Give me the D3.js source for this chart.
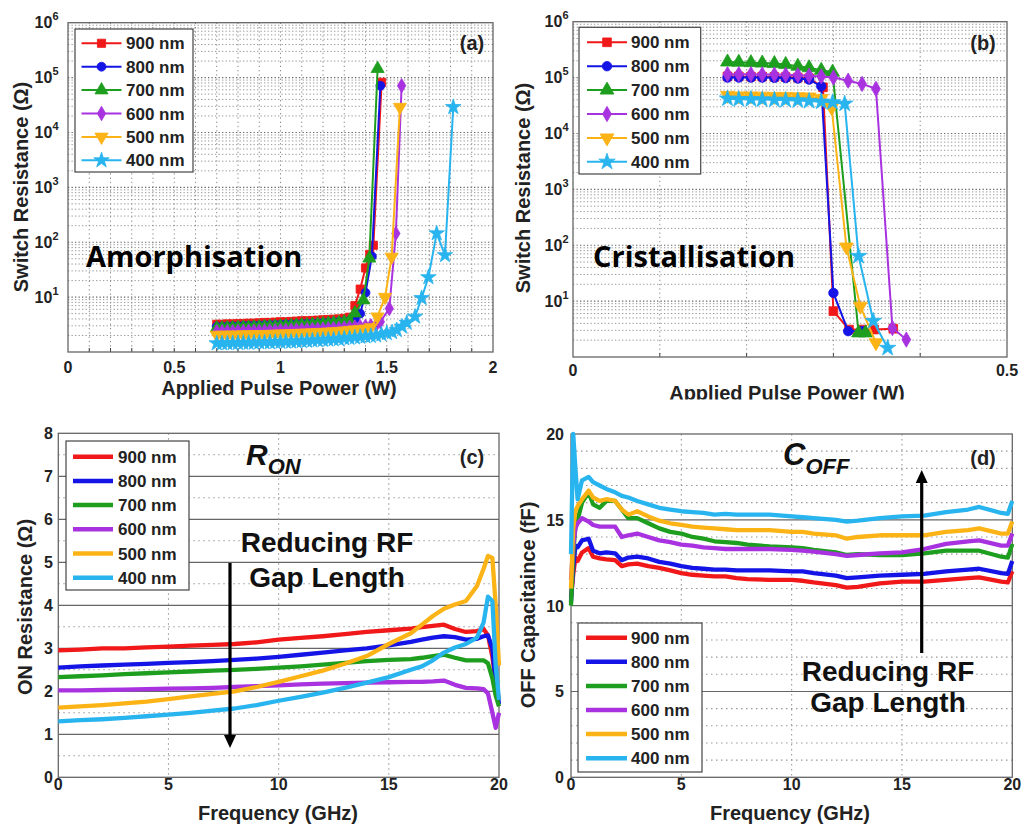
<!DOCTYPE html>
<html><head><meta charset="utf-8">
<script src="https://cdn.jsdelivr.net/npm/d3@7"></script>
<style>body{margin:0;background:#fff}svg{display:block}</style>
</head><body><script>
// ---------------- DATA ----------------
const seriesNames = ["900 nm", "800 nm", "700 nm", "600 nm", "500 nm", "400 nm"];
const seriesColors = ["#f01818", "#1414e6", "#1e9e1e", "#a832e0", "#fcb316", "#28b4ee"];
const markerTypes = ["square", "circle", "triangle", "diamond", "triangleDown", "star"];

// Panel (a) Amorphisation: applied pulse power (W) vs switch resistance (Ohm)
const powerA900 = [0.70,0.725,0.75,0.775,0.80,0.825,0.85,0.875,0.90,0.925,0.95,0.975,1.00,1.025,1.05,1.075,1.10,1.125,1.15,1.175,1.20,1.225,1.25,1.275,1.30,1.325,1.35,1.375,1.40,1.42,1.437,1.476];
const resA900 = [3.2,3.2,3.25,3.25,3.3,3.3,3.35,3.35,3.4,3.45,3.45,3.5,3.55,3.55,3.6,3.65,3.7,3.7,3.75,3.8,3.85,3.9,3.95,4.0,4.1,4.3,7.0,14,34,60,88,82000];
const powerA800 = [0.70,0.725,0.75,0.775,0.80,0.825,0.85,0.875,0.90,0.925,0.95,0.975,1.00,1.025,1.05,1.075,1.10,1.125,1.15,1.175,1.20,1.225,1.25,1.275,1.30,1.325,1.35,1.375,1.40,1.43,1.47];
const resA800 = [2.9,2.9,2.92,2.95,2.95,3.0,3.0,3.02,3.05,3.08,3.1,3.12,3.15,3.18,3.2,3.22,3.25,3.3,3.32,3.35,3.4,3.45,3.5,3.55,3.6,3.7,4.0,5.0,12,55,71000];
const powerA700 = [0.70,0.725,0.75,0.775,0.80,0.825,0.85,0.875,0.90,0.925,0.95,0.975,1.00,1.025,1.05,1.075,1.10,1.125,1.15,1.175,1.20,1.225,1.25,1.275,1.30,1.325,1.35,1.39,1.418,1.457];
const resA700 = [2.72,2.72,2.75,2.75,2.78,2.8,2.8,2.82,2.85,2.88,2.9,2.92,2.95,2.98,3.0,3.05,3.08,3.1,3.15,3.2,3.25,3.3,3.35,3.4,3.5,3.65,5.1,8.8,51,145000];
const powerA600 = [0.70,0.725,0.75,0.775,0.80,0.825,0.85,0.875,0.90,0.925,0.95,0.975,1.00,1.025,1.05,1.075,1.10,1.125,1.15,1.175,1.20,1.225,1.25,1.275,1.30,1.325,1.35,1.375,1.40,1.425,1.45,1.47,1.512,1.543,1.57];
const resA600 = [2.34,2.34,2.35,2.35,2.37,2.38,2.38,2.4,2.4,2.42,2.43,2.45,2.46,2.48,2.5,2.52,2.54,2.56,2.58,2.6,2.62,2.65,2.68,2.7,2.75,2.8,2.85,2.9,2.95,3.0,3.1,3.55,6.2,145,71000];
const powerA500 = [0.70,0.725,0.75,0.775,0.80,0.825,0.85,0.875,0.90,0.925,0.95,0.975,1.00,1.025,1.05,1.075,1.10,1.125,1.15,1.175,1.20,1.225,1.25,1.275,1.30,1.325,1.35,1.375,1.40,1.425,1.456,1.492,1.523,1.562];
const resA500 = [2.04,2.04,2.05,2.05,2.06,2.07,2.08,2.08,2.1,2.1,2.12,2.13,2.15,2.16,2.18,2.2,2.22,2.24,2.26,2.28,2.3,2.33,2.36,2.4,2.44,2.5,2.55,2.6,2.65,2.8,4.4,10,54,29000];
const powerA400 = [0.70,0.725,0.75,0.775,0.80,0.825,0.85,0.875,0.90,0.925,0.95,0.975,1.00,1.025,1.05,1.075,1.10,1.125,1.15,1.175,1.20,1.225,1.25,1.275,1.30,1.325,1.35,1.375,1.40,1.425,1.45,1.475,1.50,1.525,1.547,1.572,1.594,1.633,1.664,1.696,1.735,1.774,1.813];
const resA400 = [1.44,1.44,1.45,1.45,1.46,1.47,1.47,1.48,1.49,1.5,1.5,1.52,1.53,1.54,1.55,1.56,1.58,1.6,1.62,1.64,1.66,1.68,1.7,1.72,1.77,1.8,1.84,1.88,1.92,1.96,2.0,2.1,2.2,2.3,2.5,2.9,3.4,4.4,9.6,23,145,58,29000];

// Panel (b) Cristallisation
const powerB900 = [0.178,0.191,0.205,0.218,0.232,0.245,0.259,0.272,0.288,0.300,0.318,0.333,0.347,0.369];
const resB900 = [105000,105000,104000,104000,103000,102000,100000,97000,67000,6.6,3.1,3.1,3.1,3.2];
const powerB800 = [0.178,0.191,0.205,0.218,0.232,0.245,0.259,0.272,0.286,0.300,0.317,0.333];
const resB800 = [100000,100000,100000,100000,99000,98000,96000,92000,70000,14,2.9,2.9];
const powerB700 = [0.178,0.191,0.205,0.218,0.232,0.245,0.259,0.272,0.286,0.299,0.329,0.337];
const resB700 = [190000,188000,185000,182000,178000,172000,160000,150000,135000,125000,2.7,2.7];
const powerB600 = [0.178,0.191,0.205,0.218,0.232,0.245,0.259,0.272,0.286,0.300,0.317,0.333,0.349,0.368,0.384];
const resB600 = [115000,115000,115000,114000,113000,112000,110000,108000,105000,100000,88000,77000,63000,3.3,2.05];
const powerB500 = [0.178,0.191,0.205,0.218,0.232,0.245,0.259,0.272,0.286,0.298,0.315,0.331,0.349];
const resB500 = [48000,47000,47000,46500,46000,46000,45500,45000,42000,29000,93,8.1,1.8];
const powerB400 = [0.178,0.191,0.205,0.218,0.232,0.245,0.259,0.272,0.286,0.299,0.313,0.329,0.346,0.3625];
const resB400 = [42000,41000,41000,40500,40000,39500,39000,38000,37000,36000,34000,64,4.4,1.45];

// Panel (c) ON resistance vs frequency
const freqC = [0,1,2,3,4,5,6,7,8,9,10,11,12,13,14,15,16,16.5,17,17.5,18,18.5,19,19.3,19.5,19.7,19.85,20];
const ronC900 = [2.95,2.97,3.0,3.0,3.02,3.04,3.06,3.08,3.1,3.14,3.2,3.24,3.28,3.33,3.38,3.42,3.46,3.49,3.52,3.55,3.45,3.38,3.4,3.45,3.3,2.8,2.2,1.8];
const ronC800 = [2.55,2.58,2.6,2.62,2.64,2.66,2.68,2.7,2.73,2.76,2.8,2.85,2.9,2.95,3.0,3.07,3.15,3.2,3.25,3.28,3.26,3.2,3.22,3.28,3.3,3.0,2.2,1.7];
const ronC700 = [2.33,2.35,2.37,2.4,2.42,2.44,2.46,2.48,2.5,2.52,2.55,2.58,2.62,2.66,2.7,2.73,2.75,2.78,2.82,2.85,2.78,2.72,2.72,2.72,2.65,2.3,1.9,1.65];
const ronC600 = [2.02,2.02,2.03,2.04,2.05,2.06,2.07,2.08,2.1,2.12,2.14,2.16,2.18,2.19,2.2,2.21,2.22,2.22,2.23,2.25,2.15,2.08,2.07,2.05,1.95,1.5,1.15,1.5];
const ronC500 = [1.62,1.65,1.68,1.72,1.76,1.82,1.88,1.94,2.0,2.1,2.22,2.35,2.48,2.64,2.82,3.1,3.35,3.55,3.75,3.92,4.02,4.1,4.45,4.85,5.15,5.1,4.0,2.6];
const ronC400 = [1.3,1.33,1.35,1.38,1.42,1.46,1.5,1.55,1.6,1.68,1.78,1.87,1.97,2.08,2.2,2.33,2.5,2.58,2.72,2.9,3.02,3.1,3.25,3.6,4.2,4.1,2.6,1.8];

// Panel (d) OFF capacitance vs frequency
const freqD = [0,0.1,0.2,0.3,0.5,0.8,1,1.3,1.6,2,2.3,2.6,3,3.5,4,4.5,5,5.5,6,6.5,7,7.5,8,9,10,10.5,11,12,12.5,13,14,15,16,17,18,18.5,19.5,19.8,20];
const coffD900 = [10.5,11.8,12.8,12.6,13.1,13.35,12.85,12.75,12.7,12.65,12.3,12.4,12.45,12.3,12.2,12.05,11.9,11.8,11.75,11.7,11.7,11.6,11.55,11.5,11.5,11.45,11.35,11.2,11.05,11.1,11.3,11.4,11.4,11.5,11.6,11.65,11.4,11.35,12.0];
const coffD800 = [10.2,12.2,13.5,13.4,13.8,13.9,13.2,13.05,13.1,13.05,12.65,12.8,12.85,12.75,12.55,12.45,12.3,12.2,12.15,12.1,12.1,12.05,12.05,12.05,12.0,12.0,11.9,11.75,11.6,11.65,11.75,11.8,11.85,12.0,12.1,12.15,11.9,11.85,12.6];
const coffD700 = [10,13,14.6,15.0,16.0,16.6,15.9,15.7,16.1,16.1,15.6,15.1,15.1,14.8,14.5,14.3,14.2,14.0,13.9,13.75,13.7,13.65,13.55,13.45,13.4,13.35,13.25,13.1,12.95,13.0,12.95,12.95,13.05,13.2,13.2,13.2,12.85,12.8,13.6];
const coffD600 = [11.5,13.5,14.5,14.8,15.1,14.9,14.7,14.6,14.6,14.6,14.0,14.1,14.2,14.0,13.8,13.7,13.55,13.5,13.4,13.35,13.3,13.3,13.3,13.3,13.25,13.2,13.15,13.0,12.9,12.95,13.05,13.1,13.3,13.6,13.75,13.8,13.5,13.5,14.2];
const coffD500 = [11,14.5,15.5,15.8,16.2,16.7,16.3,16.1,16.2,16.1,15.6,15.3,15.5,15.2,14.95,14.8,14.7,14.6,14.55,14.5,14.45,14.4,14.4,14.4,14.3,14.3,14.2,14.1,13.9,14.0,14.1,14.1,14.1,14.3,14.4,14.5,14.2,14.2,14.9];
const coffD400 = [13,20,18,16.2,17.3,17.5,17.2,17.0,16.8,16.6,16.4,16.3,16.1,15.9,15.7,15.6,15.5,15.45,15.4,15.3,15.35,15.3,15.3,15.3,15.2,15.15,15.1,15.0,14.9,14.95,15.1,15.2,15.25,15.45,15.6,15.75,15.4,15.35,16.1];

const xTicksA = [0, 0.5, 1, 1.5, 2];
const xTicksB = [0, 0.5];
const yExpTicks = [1, 2, 3, 4, 5, 6];
const xTicksCD = [0, 5, 10, 15, 20];
const yTicksC = [0,1,2,3,4,5,6,7,8];
const yTicksD = [0,5,10,15,20];

// ---------------- DRAWING ----------------
const FONT = "'Liberation Sans', Arial, Helvetica, sans-serif";
const svg = d3.select("body").append("svg").attr("width", 1023).attr("height", 829)
  .style("font-family", FONT);
svg.append("rect").attr("width", 1023).attr("height", 829).attr("fill", "#fff");

const symMap = {square: d3.symbolSquare, circle: d3.symbolCircle, triangle: d3.symbolTriangle,
  diamond: d3.symbolDiamond, triangleDown: d3.symbolTriangle, star: d3.symbolStar};
const symSize = {square: 56, circle: 52, triangle: 62, diamond: 50, triangleDown: 62, star: 62};
function drawMarker(g, type, cx, cy, color, scale) {
  g.append("path").attr("d", d3.symbol(symMap[type], symSize[type] * scale)())
    .attr("transform", `translate(${cx},${cy})` + (type === "triangleDown" ? " rotate(180)" : ""))
    .attr("fill", color).attr("stroke", color).attr("stroke-width", 0.8);
}

function logPanel(cfg) {
  const g = svg.append("g");
  if (cfg.clip) {
    svg.append("clipPath").attr("id", cfg.clip.id).append("rect")
      .attr("x", cfg.clip.x).attr("y", cfg.clip.y).attr("width", cfg.clip.w).attr("height", cfg.clip.h);
    g.attr("clip-path", `url(#${cfg.clip.id})`);
  }
  const x = d3.scaleLinear().domain(cfg.xDomain).range([cfg.left, cfg.right]);
  const y = d3.scaleLog().domain([1, 1e6]).range([cfg.bottom, cfg.top]);
  // horizontal grid (decades + minor log ticks)
  y.ticks().forEach(v => {
    const major = Math.abs(Math.log10(v) - Math.round(Math.log10(v))) < 1e-9;
    if (v <= 1 || v >= 1e6) return;
    g.append("line").attr("x1", cfg.left).attr("x2", cfg.right).attr("y1", y(v)).attr("y2", y(v))
      .attr("stroke", major ? "#666" : "#8a8a8a").attr("stroke-width", major ? 1.1 : 0.9)
      .attr("stroke-dasharray", "1.3,2.2");
  });
  // vertical grid
  x.ticks(cfg.xGridCount).forEach(v => {
    if (v <= cfg.xDomain[0] || v >= cfg.xDomain[1]) return;
    g.append("line").attr("x1", x(v)).attr("x2", x(v)).attr("y1", cfg.top).attr("y2", cfg.bottom)
      .attr("stroke", "#8a8a8a").attr("stroke-width", 1).attr("stroke-dasharray", "1.3,3");
    g.append("line").attr("x1", x(v)).attr("x2", x(v)).attr("y1", cfg.bottom).attr("y2", cfg.bottom - 4)
      .attr("stroke", "#444");
  });
  // frame
  g.append("rect").attr("x", cfg.left).attr("y", cfg.top).attr("width", cfg.right - cfg.left)
    .attr("height", cfg.bottom - cfg.top).attr("fill", "none").attr("stroke", "#666").attr("stroke-width", 1.3);
  // series
  const line = d3.line().x(d => x(d[0])).y(d => y(d[1]));
  cfg.series.forEach((s, i) => {
    const pts = s.x.map((v, j) => [v, s.y[j]]);
    g.append("path").attr("d", line(pts)).attr("fill", "none")
      .attr("stroke", seriesColors[i]).attr("stroke-width", 2);
    pts.forEach(p => drawMarker(g, markerTypes[i], x(p[0]), y(p[1]), seriesColors[i], cfg.markerScale));
  });
  // y tick labels
  yExpTicks.forEach(e => {
    const t = g.append("text").attr("x", cfg.yLabelX).attr("y", y(10 ** e) + 5.5)
      .attr("text-anchor", "end").attr("font-weight", "bold").attr("font-size", 16).attr("fill", "#222");
    t.append("tspan").text("10");
    t.append("tspan").attr("dy", -8).attr("font-size", 11).text(e);
  });
  // x tick labels
  cfg.xTicks.forEach(v => {
    g.append("text").attr("x", x(v)).attr("y", cfg.xLabelY).attr("text-anchor", "middle")
      .attr("font-weight", "bold").attr("font-size", 16).attr("fill", "#222").text(v);
  });
  // titles
  g.append("text").attr("x", cfg.xTitle[0]).attr("y", cfg.xTitle[1]).attr("text-anchor", "middle")
    .attr("font-weight", "bold").attr("font-size", 20).attr("fill", "#222").text("Applied Pulse Power (W)");
  g.append("text").attr("transform", `translate(${cfg.yTitle[0]},${cfg.yTitle[1]}) rotate(-90)`)
    .attr("text-anchor", "middle").attr("font-weight", "bold").attr("font-size", 20).attr("fill", "#222")
    .attr("dy", 7).text("Switch Resistance (\u03A9)");
  // legend
  const L = cfg.legend;
  g.append("rect").attr("x", L.x).attr("y", L.y).attr("width", L.w).attr("height", L.h)
    .attr("fill", "#fff").attr("stroke", "#444").attr("stroke-width", 1.2);
  seriesNames.forEach((n, i) => {
    const cy = L.first + i * L.step;
    g.append("line").attr("x1", L.lx1).attr("x2", L.lx2).attr("y1", cy).attr("y2", cy)
      .attr("stroke", seriesColors[i]).attr("stroke-width", 2);
    drawMarker(g, markerTypes[i], (L.lx1 + L.lx2) / 2, cy, seriesColors[i], cfg.markerScale);
    g.append("text").attr("x", L.tx).attr("y", cy + 6).attr("font-weight", "bold").attr("font-size", 17)
      .attr("fill", "#222").text(n);
  });
  // panel label + annotation
  g.append("text").attr("x", cfg.tag[0]).attr("y", cfg.tag[1]).attr("text-anchor", "middle")
    .attr("font-weight", "bold").attr("font-size", 20).attr("fill", "#222").text(cfg.tag[2]);
  g.append("text").attr("x", cfg.note[0]).attr("y", cfg.note[1])
    .attr("font-family", "'Open Sans', Lato, sans-serif").attr("font-weight", "bold")
    .attr("font-size", 29).attr("fill", "#000").text(cfg.note[2]);
}

logPanel({
  left: 68, right: 493, top: 22.7, bottom: 352, xDomain: [0, 2], xGridCount: 20, xTicks: xTicksA,
  series: [{x: powerA900, y: resA900}, {x: powerA800, y: resA800}, {x: powerA700, y: resA700},
           {x: powerA600, y: resA600}, {x: powerA500, y: resA500}, {x: powerA400, y: resA400}],
  markerScale: 1.2, yLabelX: 58.5, xLabelY: 373, xTitle: [279, 395], yTitle: [21, 187],
  legend: {x: 75, y: 29, w: 118, h: 143, first: 43.3, step: 23.4, lx1: 81.5, lx2: 121.5, tx: 126},
  tag: [472, 50, "(a)"], note: [86, 267, "Amorphisation"]
});
logPanel({
  left: 573, right: 1007, top: 21.7, bottom: 357, xDomain: [0, 0.5], xGridCount: 5, xTicks: xTicksB,
  series: [{x: powerB900, y: resB900}, {x: powerB800, y: resB800}, {x: powerB700, y: resB700},
           {x: powerB600, y: resB600}, {x: powerB500, y: resB500}, {x: powerB400, y: resB400}],
  markerScale: 1.35, yLabelX: 568.5, xLabelY: 376, xTitle: [787, 400], yTitle: [523, 188],
  legend: {x: 579, y: 27.3, w: 121.7, h: 146.7, first: 42.3, step: 23.9, lx1: 587, lx2: 627, tx: 631},
  tag: [983, 50, "(b)"], note: [593, 267, "Cristallisation"],
  clip: {id: "clipB", x: 505, y: 0, w: 518, h: 399.5}
});

function linPanel(cfg) {
  const g = svg.append("g");
  const x = d3.scaleLinear().domain([0, 20]).range([cfg.left, cfg.right]);
  const y = d3.scaleLinear().domain(cfg.yDomain).range([cfg.bottom, cfg.top]);
  // horizontal grid
  y.ticks(cfg.yGridCount).forEach(v => {
    if (v <= cfg.yDomain[0] || v >= cfg.yDomain[1]) return;
    const solid = cfg.isSolid(v);
    g.append("line").attr("x1", cfg.left).attr("x2", cfg.right).attr("y1", y(v)).attr("y2", y(v))
      .attr("stroke", solid ? "#666" : "#999").attr("stroke-width", solid ? 1.2 : 1.1)
      .attr("stroke-dasharray", solid ? null : "1.5,3.5");
  });
  xTicksCD.forEach(v => {
    if (v <= 0 || v >= 20) return;
    g.append("line").attr("x1", x(v)).attr("x2", x(v)).attr("y1", cfg.top).attr("y2", cfg.bottom)
      .attr("stroke", "#999").attr("stroke-width", 1.1).attr("stroke-dasharray", "1.5,3.5");
  });
  g.append("rect").attr("x", cfg.left).attr("y", cfg.top).attr("width", cfg.right - cfg.left)
    .attr("height", cfg.bottom - cfg.top).attr("fill", "none").attr("stroke", "#666").attr("stroke-width", 1.3);
  const line = d3.line().x(d => x(d[0])).y(d => y(d[1]));
  cfg.series.forEach((vals, i) => {
    g.append("path").attr("d", line(cfg.freq.map((f, j) => [f, vals[j]]))).attr("fill", "none")
      .attr("stroke", seriesColors[i]).attr("stroke-width", 4.3).attr("stroke-linejoin", "round");
  });
  cfg.yTicks.forEach(v => {
    g.append("text").attr("x", cfg.yLabelX).attr("y", y(v) + 6).attr("text-anchor", "end")
      .attr("font-weight", "bold").attr("font-size", 16).attr("fill", "#222").text(v);
  });
  xTicksCD.forEach(v => {
    g.append("text").attr("x", x(v)).attr("y", 790).attr("text-anchor", "middle")
      .attr("font-weight", "bold").attr("font-size", 16).attr("fill", "#222").text(v);
  });
  g.append("text").attr("x", cfg.xTitle[0]).attr("y", 820).attr("text-anchor", "middle")
    .attr("font-weight", "bold").attr("font-size", 20).attr("fill", "#222").text("Frequency (GHz)");
  g.append("text").attr("transform", `translate(${cfg.yTitle[0]},${cfg.yTitle[1]}) rotate(-90)`)
    .attr("text-anchor", "middle").attr("font-weight", "bold").attr("font-size", 20).attr("fill", "#222")
    .attr("dy", 7).text(cfg.yTitle[2]);
  const L = cfg.legend;
  g.append("rect").attr("x", L.x).attr("y", L.y).attr("width", L.w).attr("height", L.h)
    .attr("fill", "#fff").attr("stroke", "#444").attr("stroke-width", 1.2);
  seriesNames.forEach((n, i) => {
    const cy = L.first + i * L.step;
    g.append("line").attr("x1", L.lx1).attr("x2", L.lx2).attr("y1", cy).attr("y2", cy)
      .attr("stroke", seriesColors[i]).attr("stroke-width", 4.5);
    g.append("text").attr("x", L.tx).attr("y", cy + 6).attr("font-weight", "bold").attr("font-size", 17)
      .attr("fill", "#222").text(n);
  });
  g.append("text").attr("x", cfg.tag[0]).attr("y", cfg.tag[1]).attr("text-anchor", "middle")
    .attr("font-weight", "bold").attr("font-size", 20).attr("fill", "#222").text(cfg.tag[2]);
  // big symbol with subscript
  const s = g.append("text").attr("x", cfg.sym[0]).attr("y", cfg.sym[1]).attr("font-weight", "bold")
    .attr("font-style", "italic").attr("fill", "#111");
  s.append("tspan").attr("font-size", cfg.sym[4]).text(cfg.sym[2]);
  s.append("tspan").attr("font-size", 22).attr("dy", 9).text(cfg.sym[3]);
  // annotation
  [["Reducing RF", cfg.note[1]], ["Gap Length", cfg.note[2]]].forEach(([t, yy]) => {
    g.append("text").attr("x", cfg.note[0]).attr("y", yy).attr("text-anchor", "middle")
      .attr("font-weight", "bold").attr("font-size", 28).attr("fill", "#111").text(t);
  });
  // arrow
  const A = cfg.arrow;
  const dir = A.y2 > A.y1 ? 1 : -1;
  g.append("line").attr("x1", A.x).attr("x2", A.x).attr("y1", A.y1).attr("y2", A.y2 - dir * 10)
    .attr("stroke", "#000").attr("stroke-width", 3.2);
  g.append("path").attr("d", `M${A.x - 6},${A.y2 - dir * 13} L${A.x + 6},${A.y2 - dir * 13} L${A.x},${A.y2} Z`)
    .attr("fill", "#000");
}

linPanel({
  left: 58.3, right: 499, top: 433.3, bottom: 777.3, yDomain: [0, 8], yGridCount: 16,
  isSolid: v => Number.isInteger(v), freq: freqC,
  series: [ronC900, ronC800, ronC700, ronC600, ronC500, ronC400],
  yTicks: yTicksC, yLabelX: 53, xTitle: [278, 820], yTitle: [25, 607, "ON Resistance (\u03A9)"],
  legend: {x: 66, y: 441, w: 123, h: 149, first: 456.7, step: 24.2, lx1: 73, lx2: 113, tx: 118},
  tag: [472, 464, "(c)"], sym: [246, 465, "R", "ON", 30],
  note: [327, 552, 587], arrow: {x: 230, y1: 563, y2: 748}
});
linPanel({
  left: 571, right: 1012.3, top: 434, bottom: 777.3, yDomain: [0, 20], yGridCount: 20,
  isSolid: v => v % 5 === 0, freq: freqD,
  series: [coffD900, coffD800, coffD700, coffD600, coffD500, coffD400],
  yTicks: yTicksD, yLabelX: 564, xTitle: [790, 820], yTitle: [528, 605, "OFF Capacitaince (fF)"],
  legend: {x: 578, y: 623, w: 124, h: 149, first: 637.7, step: 24.1, lx1: 586, lx2: 627, tx: 631},
  tag: [983, 465, "(d)"], sym: [783, 465, "C", "OFF", 31],
  note: [888, 681, 712], arrow: {x: 921.7, y1: 653, y2: 470}
});
</script></body></html>
